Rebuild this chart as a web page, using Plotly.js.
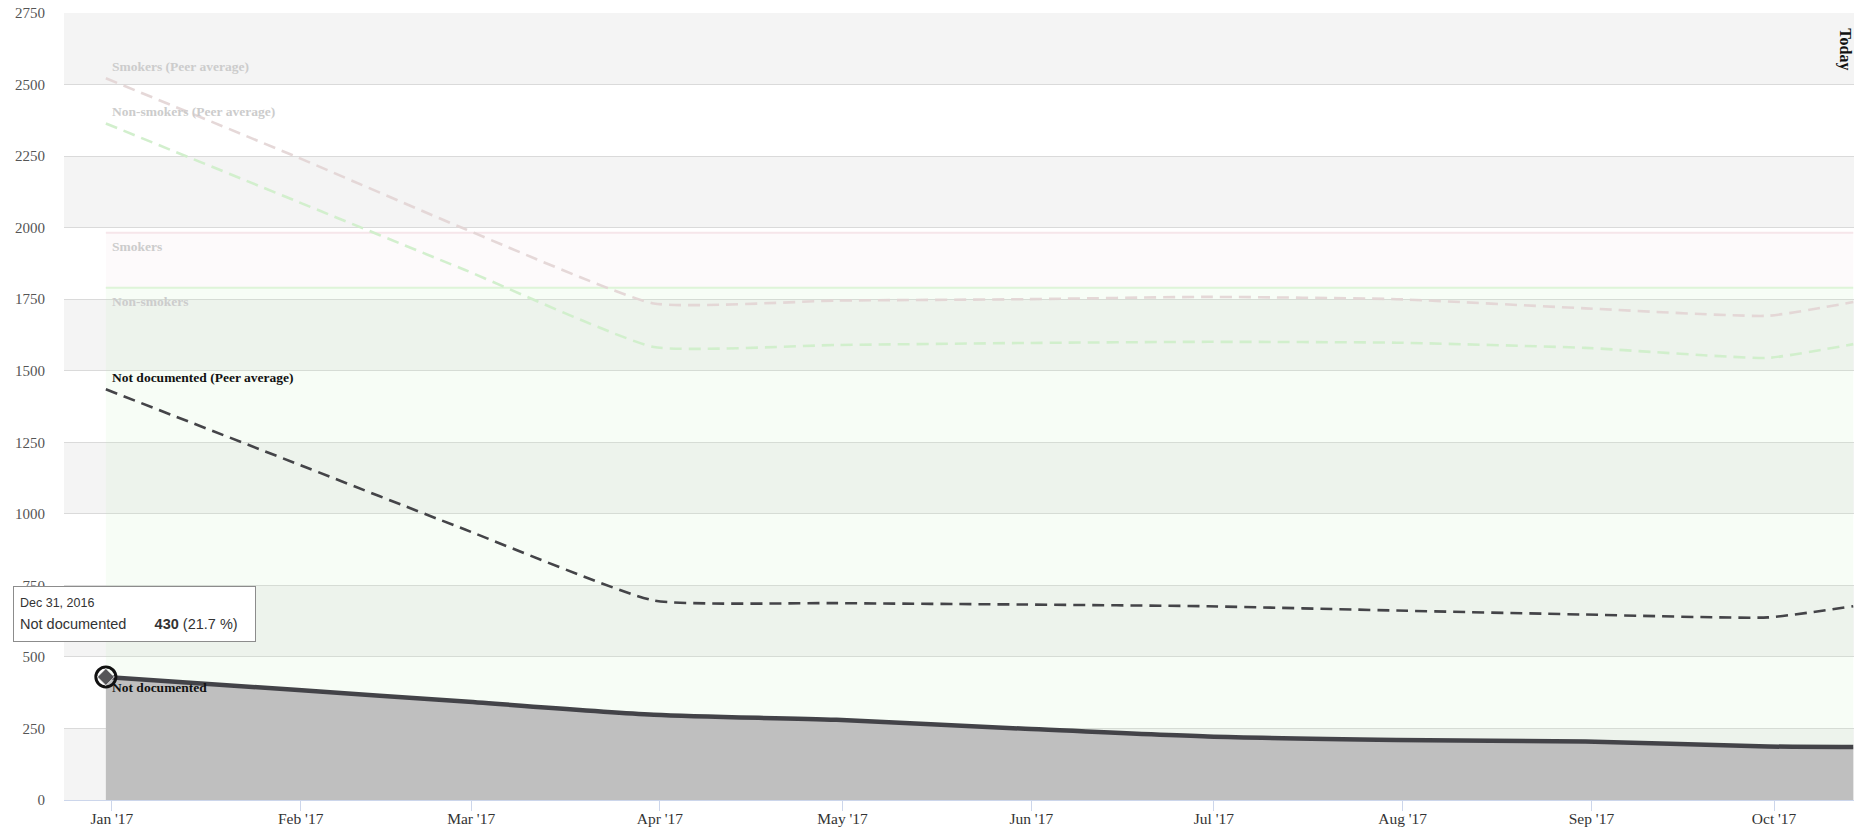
<!DOCTYPE html>
<html>
<head>
<meta charset="utf-8">
<script src="https://cdn.plot.ly/plotly-3.0.1.min.js"></script>
<style>
html,body{margin:0;padding:0;background:#ffffff;}
#chart{width:1855px;height:831px;}
</style>
</head>
<body>
<div id="chart"></div>
<script>
// ---- data ----
const dates = ['2016-12-31','2017-01-31','2017-02-28','2017-03-31','2017-04-30','2017-05-31','2017-06-30','2017-07-31','2017-08-31','2017-09-30','2017-10-14'];
const notDocumented = [430, 385, 344, 298, 280, 249, 222, 210, 204, 187, 185];
const nonSmokers = [1360, 1405, 1446, 1492, 1510, 1541, 1568, 1580, 1586, 1603, 1605];
const smokers = [192, 192, 192, 192, 192, 192, 192, 192, 192, 192, 192];
const notDocumentedPeer = [1435, 1178, 945, 697, 688, 683, 677, 662, 648, 638, 677];
const smokersPeer = [2522, 2250, 1995, 1735, 1745, 1750, 1758, 1750, 1718, 1692, 1740];
const nonSmokersPeer = [2364, 2095, 1852, 1583, 1590, 1597, 1601, 1598, 1580, 1545, 1593];
const yTicks = [0, 250, 500, 750, 1000, 1250, 1500, 1750, 2000, 2250, 2500, 2750];
const xRange = ['2016-12-24 03:00', '2017-10-14 03:00'];
const tooltipDate = 'Dec 31, 2016';
const todayLabel = 'Today';

const serif = 'Liberation Serif, Times New Roman, serif';
const sans = 'Liberation Sans, Arial, sans-serif';

const traces = [
  {
    x: dates, y: notDocumented, name: 'Not documented', type: 'scatter', mode: 'lines',
    stackgroup: 'status', line: {color: '#434348', width: 4.5, shape: 'spline', smoothing: 0.8},
    fillcolor: 'rgba(191,191,191,1)', hoverinfo: 'skip'
  },
  {
    x: dates, y: nonSmokers, name: 'Non-smokers', type: 'scatter', mode: 'lines',
    stackgroup: 'status', line: {color: 'rgba(200,238,190,0.55)', width: 2, shape: 'spline', smoothing: 0.8},
    fillcolor: 'rgba(190,235,180,0.12)', hoverinfo: 'skip'
  },
  {
    x: dates, y: smokers, name: 'Smokers', type: 'scatter', mode: 'lines',
    stackgroup: 'status', line: {color: 'rgba(240,215,220,0.6)', width: 2, shape: 'spline', smoothing: 0.8},
    fillcolor: 'rgba(230,190,200,0.08)', hoverinfo: 'skip'
  },
  {
    x: dates, y: smokersPeer, name: 'Smokers (Peer average)', type: 'scatter', mode: 'lines',
    line: {color: 'rgba(226,212,212,0.9)', width: 2.6, dash: '12px,7px', shape: 'spline', smoothing: 0.45},
    hoverinfo: 'skip'
  },
  {
    x: dates, y: nonSmokersPeer, name: 'Non-smokers (Peer average)', type: 'scatter', mode: 'lines',
    line: {color: 'rgba(208,238,202,0.95)', width: 2.6, dash: '12px,7px', shape: 'spline', smoothing: 0.45},
    hoverinfo: 'skip'
  },
  {
    x: dates, y: notDocumentedPeer, name: 'Not documented (Peer average)', type: 'scatter', mode: 'lines',
    line: {color: '#444448', width: 2.6, dash: '12px,7px', shape: 'spline', smoothing: 0.45},
    hoverinfo: 'skip'
  },
  {
    x: [dates[0]], y: [notDocumented[0]], type: 'scatter', mode: 'markers', hoverinfo: 'skip',
    marker: {symbol: 'circle-open', size: 20, color: '#111111', line: {color: '#111111', width: 3}}
  },
  {
    x: [dates[0]], y: [notDocumented[0]], type: 'scatter', mode: 'markers', hoverinfo: 'skip',
    marker: {symbol: 'diamond', size: 13, color: '#555558', line: {color: 'rgba(255,255,255,0.7)', width: 1}}
  }
];

// alternating grid bands built from the tick array
const shapes = [];
for (let i = 0; i + 1 < yTicks.length; i += 2) {
  shapes.push({type: 'rect', xref: 'paper', yref: 'y', x0: 0, x1: 1, y0: yTicks[i], y1: yTicks[i + 1],
    fillcolor: '#f4f4f4', line: {width: 0}, layer: 'below'});
}

function dataLabel(text, y, yshift, color) {
  return {xref: 'x', yref: 'y', x: dates[0], y: y, text: '<b>' + text + '</b>', showarrow: false,
    xanchor: 'left', yanchor: 'middle', xshift: 4, yshift: yshift,
    font: {family: serif, size: 13.5, color: color}};
}

const total0 = notDocumented[0] + nonSmokers[0] + smokers[0];
const pct0 = (notDocumented[0] / total0 * 100).toFixed(1);
const gap = '\u00a0\u00a0\u00a0\u00a0\u00a0\u00a0';

const annotations = [
  dataLabel('Smokers (Peer average)', smokersPeer[0], 12, '#cccccc'),
  dataLabel('Non-smokers (Peer average)', nonSmokersPeer[0], 12, '#cccccc'),
  dataLabel('Smokers', total0, -14, '#cccccc'),
  dataLabel('Non-smokers', notDocumented[0] + nonSmokers[0], -14, '#cccccc'),
  dataLabel('Not documented (Peer average)', notDocumentedPeer[0], 12, '#111111'),
  dataLabel('Not documented', notDocumented[0], -11, '#111111'),
  {
    xref: 'x', yref: 'paper', x: dates[dates.length - 1], y: 0.9536, xshift: -8,
    text: '<b>' + todayLabel + '</b>', textangle: 90, showarrow: false,
    xanchor: 'center', yanchor: 'middle', font: {family: serif, size: 16, color: '#111111'}
  },
  {
    xref: 'paper', yref: 'paper', x: (13 - 64) / 1790, y: (800 - 586) / 787,
    xanchor: 'left', yanchor: 'top', align: 'left', valign: 'middle',
    width: 229, height: 42, borderpad: 6, borderwidth: 1, bordercolor: '#8c8c8c', bgcolor: '#ffffff',
    showarrow: false,
    text: '<span style="font-size:12.5px">' + tooltipDate + '</span><br>' +
          '<span style="font-size:14.5px">Not documented' + gap + ' <b>' + notDocumented[0] + '</b> (' + pct0 + ' %)</span>',
    font: {family: sans, size: 17, color: '#333333'}
  }
];

const layout = {
  width: 1855, height: 831,
  margin: {l: 64, r: 1, t: 13, b: 31, pad: 0},
  paper_bgcolor: '#ffffff', plot_bgcolor: '#ffffff',
  showlegend: false,
  xaxis: {
    type: 'date', range: xRange, tick0: '2017-01-01', dtick: 'M1', tickformat: "%b '%y",
    showgrid: false, zeroline: false, showline: true, linecolor: '#ccd6eb', linewidth: 1,
    ticks: 'outside', ticklen: 10, tickcolor: '#ccd6eb', tickwidth: 1, ticklabelstandoff: -6,
    tickfont: {family: serif, size: 15.5, color: '#333333'}, fixedrange: true
  },
  yaxis: {
    range: [0, 2750], tickvals: yTicks, ticktext: yTicks.map(String),
    showgrid: true, gridcolor: '#dadada', gridwidth: 1, zeroline: false, showline: false,
    ticks: '', ticklabelstandoff: 18,
    tickfont: {family: serif, size: 15, color: '#555555'}, fixedrange: true
  },
  shapes: shapes,
  annotations: annotations
};

Plotly.newPlot('chart', traces, layout, {displayModeBar: false, staticPlot: true});
</script>
</body>
</html>
